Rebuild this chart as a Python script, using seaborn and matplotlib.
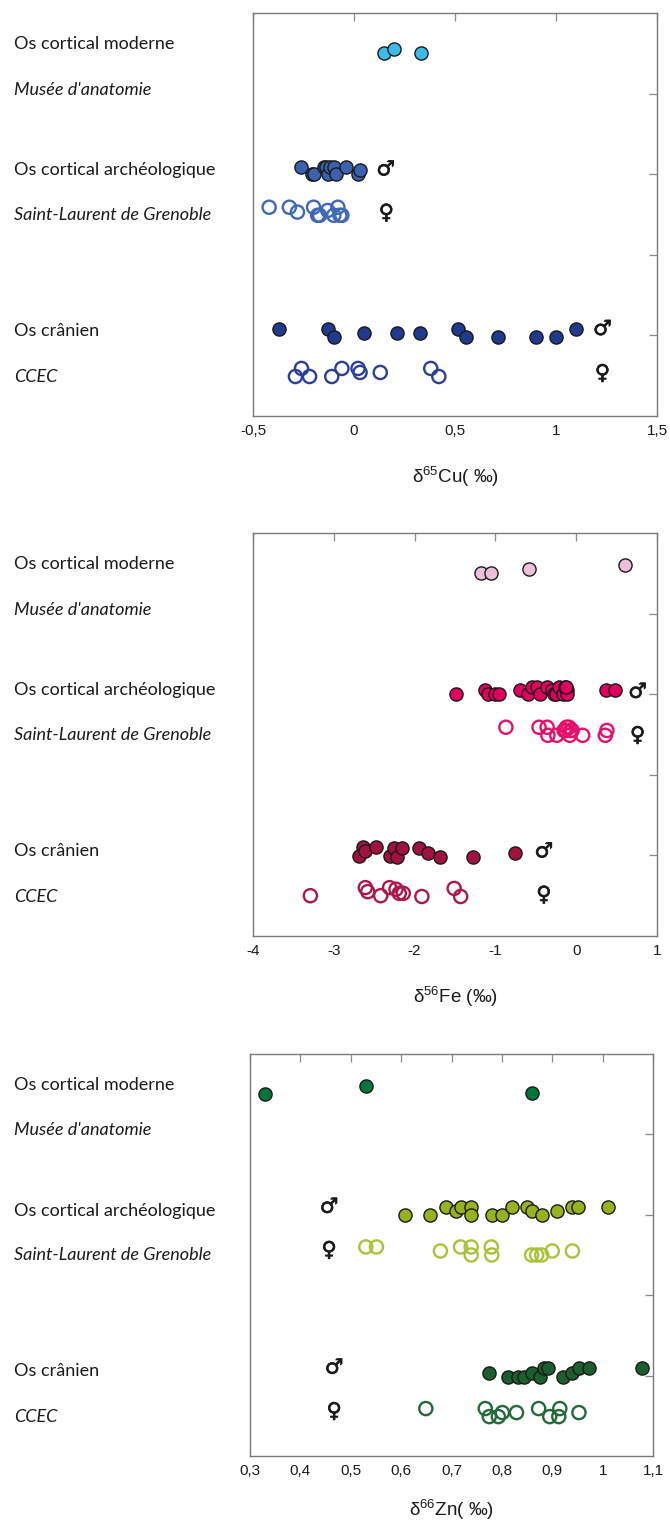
import matplotlib
matplotlib.use("Agg")
import matplotlib.pyplot as plt
import matplotlib.patheffects as pe
import matplotlib.transforms as mtransforms
import seaborn as sns

# --- Cu panel -------------------------------------------------------------
cu_mod_x = [0.15, 0.20, 0.33]
cu_mod_y = [4.50, 4.55, 4.50]
cu_arch_m_x = [-0.26, -0.21, -0.20, -0.15, -0.14, -0.13, -0.12, -0.10, -0.09, -0.04, 0.02, 0.03]
cu_arch_m_y = [3.09, 3.00, 3.00, 3.09, 3.09, 3.00, 3.09, 3.09, 3.00, 3.09, 3.00, 3.05]
cu_arch_f_x = [-0.42, -0.32, -0.28, -0.20, -0.18, -0.17, -0.13, -0.10, -0.08, -0.07, -0.06]
cu_arch_f_y = [2.59, 2.59, 2.53, 2.59, 2.49, 2.49, 2.55, 2.49, 2.59, 2.49, 2.49]
cu_cran_m_x = [-0.37, -0.13, -0.10, 0.05, 0.215, 0.325, 0.515, 0.555, 0.715, 0.90, 1.00, 1.10]
cu_cran_m_y = [1.08, 1.08, 0.98, 1.03, 1.03, 1.03, 1.08, 0.98, 0.98, 0.98, 0.98, 1.08]
cu_cran_f_x = [-0.29, -0.26, -0.22, -0.11, -0.06, 0.02, 0.03, 0.13, 0.38, 0.42]
cu_cran_f_y = [0.49, 0.59, 0.49, 0.49, 0.59, 0.59, 0.54, 0.54, 0.59, 0.49]

# --- Fe panel -------------------------------------------------------------
fe_mod_x = [-1.18, -1.05, -0.58, 0.61]
fe_mod_y = [4.50, 4.50, 4.55, 4.60]
fe_arch_m_x = [-1.49, -1.13, -1.09, -1.01, -0.95, -0.69, -0.60, -0.55, -0.48, -0.45, -0.36,
               -0.30, -0.28, -0.25, -0.21, -0.16, -0.14, -0.12, -0.11, -0.13, 0.37, 0.48]
fe_arch_m_y = [3.00, 3.05, 3.00, 3.00, 3.00, 3.05, 3.00, 3.09, 3.09, 3.00, 3.09,
               3.05, 3.00, 3.00, 3.09, 3.00, 3.09, 3.05, 3.00, 3.09, 3.05, 3.05]
fe_arch_f_x = [-0.87, -0.46, -0.36, -0.35, -0.24, -0.15, -0.12, -0.09, -0.07, -0.08, -0.13,
               -0.05, 0.08, 0.36, 0.38]
fe_arch_f_y = [2.59, 2.59, 2.59, 2.49, 2.49, 2.55, 2.59, 2.59, 2.55, 2.49, 2.55,
               2.55, 2.49, 2.49, 2.55]
fe_cran_m_x = [-2.69, -2.64, -2.61, -2.48, -2.30, -2.26, -2.22, -2.15, -1.94, -1.84, -1.68, -1.28, -0.76]
fe_cran_m_y = [0.99, 1.10, 1.05, 1.10, 0.99, 1.09, 0.98, 1.09, 1.09, 1.03, 0.98, 0.98, 1.03]
fe_cran_f_x = [-3.29, -2.61, -2.58, -2.42, -2.31, -2.23, -2.19, -2.14, -1.91, -1.51, -1.43]
fe_cran_f_y = [0.50, 0.60, 0.55, 0.50, 0.60, 0.58, 0.53, 0.53, 0.49, 0.59, 0.49]

# --- Zn panel -------------------------------------------------------------
zn_mod_x = [0.33, 0.53, 0.86]
zn_mod_y = [4.50, 4.60, 4.51]
zn_arch_m_x = [0.608, 0.658, 0.689, 0.709, 0.718, 0.739, 0.739, 0.780, 0.800, 0.820, 0.849,
               0.860, 0.879, 0.910, 0.940, 0.952, 1.010]
zn_arch_m_y = [3.00, 3.00, 3.10, 3.05, 3.10, 3.10, 3.00, 3.00, 3.00, 3.10, 3.10,
               3.05, 3.00, 3.05, 3.10, 3.10, 3.10]
zn_arch_f_x = [0.530, 0.551, 0.678, 0.718, 0.739, 0.739, 0.779, 0.780, 0.859, 0.869, 0.879, 0.900, 0.940]
zn_arch_f_y = [2.60, 2.60, 2.55, 2.60, 2.60, 2.50, 2.60, 2.50, 2.50, 2.50, 2.50, 2.55, 2.55]
zn_cran_m_x = [0.774, 0.813, 0.832, 0.844, 0.860, 0.875, 0.883, 0.892, 0.922, 0.940, 0.953, 0.973, 1.079]
zn_cran_m_y = [1.03, 0.98, 0.98, 0.98, 1.03, 0.98, 1.09, 1.09, 0.98, 1.03, 1.09, 1.09, 1.09]
zn_cran_f_x = [0.649, 0.767, 0.775, 0.793, 0.801, 0.829, 0.873, 0.895, 0.915, 0.913, 0.953]
zn_cran_f_y = [0.59, 0.59, 0.49, 0.49, 0.54, 0.54, 0.59, 0.49, 0.59, 0.49, 0.54]

# group labels (left side) and their heights on the y scale
group_labels = ["Os cortical moderne", "Musée d'anatomie", "Os cortical archéologique",
                "Saint-Laurent de Grenoble", "Os crânien", "CCEC"]
group_label_y = [4.62, 4.05, 3.05, 2.50, 1.06, 0.48]
group_label_italic = [False, True, False, True, False, True]

cu_ticks = [-0.5, 0, 0.5, 1, 1.5]
cu_ticklabels = ["-0,5", "0", "0,5", "1", "1,5"]
fe_ticks = [-4, -3, -2, -1, 0, 1]
fe_ticklabels = ["-4", "-3", "-2", "-1", "0", "1"]
zn_ticks = [0.3, 0.4, 0.5, 0.6, 0.7, 0.8, 0.9, 1.0, 1.1]
zn_ticklabels = ["0,3", "0,4", "0,5", "0,6", "0,7", "0,8", "0,9", "1", "1,1"]

# sex symbol positions: (x, y) for male / female, archaeological then cranial
cu_sym = [(0.157, 3.06), (0.16, 2.52), (1.23, 1.08), (1.23, 0.53)]
fe_sym = [(0.76, 3.03), (0.76, 2.49), (-0.40, 1.05), (-0.40, 0.51)]
zn_sym = [(0.457, 3.10), (0.457, 2.56), (0.467, 1.10), (0.467, 0.556)]

panels = [
    dict(mod=(cu_mod_x, cu_mod_y), am=(cu_arch_m_x, cu_arch_m_y), af=(cu_arch_f_x, cu_arch_f_y),
         cm=(cu_cran_m_x, cu_cran_m_y), cf=(cu_cran_f_x, cu_cran_f_y),
         colors=("#3dbbe8", "#3b62b0", "#4068b8", "#1f3a8e", "#2b409c"),
         xlim=(-0.5, 1.5), ticks=cu_ticks, labels=cu_ticklabels, sym=cu_sym,
         xlabel="δ$^{65}$Cu( ‰)", pad=19, rect=[253 / 670, 1 - 416 / 1525, 404 / 670, 403 / 1525]),
    dict(mod=(fe_mod_x, fe_mod_y), am=(fe_arch_m_x, fe_arch_m_y), af=(fe_arch_f_x, fe_arch_f_y),
         cm=(fe_cran_m_x, fe_cran_m_y), cf=(fe_cran_f_x, fe_cran_f_y),
         colors=("#ecc0da", "#e2005e", "#e6106a", "#a2123e", "#ab1a48"),
         xlim=(-4, 1), ticks=fe_ticks, labels=fe_ticklabels, sym=fe_sym,
         xlabel="δ$^{56}$Fe (‰)", pad=19, rect=[253 / 670, 1 - 936 / 1525, 404 / 670, 403 / 1525]),
    dict(mod=(zn_mod_x, zn_mod_y), am=(zn_arch_m_x, zn_arch_m_y), af=(zn_arch_f_x, zn_arch_f_y),
         cm=(zn_cran_m_x, zn_cran_m_y), cf=(zn_cran_f_x, zn_cran_f_y),
         colors=("#00773a", "#95b21f", "#a9c43a", "#1c5e2c", "#25693a"),
         xlim=(0.3, 1.1), ticks=zn_ticks, labels=zn_ticklabels, sym=zn_sym,
         xlabel="δ$^{66}$Zn( ‰)", pad=14, rect=[250 / 670, 1 - 1456 / 1525, 403 / 670, 402 / 1525]),
]

sns.set_theme(style="white")
plt.rcParams["font.family"] = ["Liberation Sans", "DejaVu Sans"]
plt.rcParams["mathtext.fontset"] = "custom"
plt.rcParams["mathtext.rm"] = "Liberation Sans"
plt.rcParams["mathtext.it"] = "Liberation Sans:italic"

fig = plt.figure(figsize=(6.7, 15.25), dpi=100)

S = 90
for p in panels:
    ax = fig.add_axes(p["rect"])
    c_mod, c_am, c_af, c_cm, c_cf = p["colors"]

    sns.scatterplot(x=p["mod"][0], y=p["mod"][1], color=c_mod, edgecolor="#1a1a1a",
                    linewidth=1.0, s=S, ax=ax, zorder=3)
    sns.scatterplot(x=p["am"][0], y=p["am"][1], color=c_am, edgecolor="#1a1a1a",
                    linewidth=1.0, s=S, ax=ax, zorder=3)
    sns.scatterplot(x=p["af"][0], y=p["af"][1], facecolors="none", edgecolor=c_af,
                    linewidth=1.7, s=S, ax=ax, zorder=3)
    sns.scatterplot(x=p["cm"][0], y=p["cm"][1], color=c_cm, edgecolor="#1a1a1a",
                    linewidth=1.0, s=S, ax=ax, zorder=3)
    sns.scatterplot(x=p["cf"][0], y=p["cf"][1], facecolors="none", edgecolor=c_cf,
                    linewidth=1.7, s=S, ax=ax, zorder=3)

    for (sx, sy), sym in zip(p["sym"], ["♂", "♀", "♂", "♀"]):
        ax.text(sx, sy, sym, ha="center", va="center", fontsize=15,
                color="#1a1a1a", family="DejaVu Sans",
                path_effects=[pe.withStroke(linewidth=0.5, foreground="#1a1a1a")])

    ax.set_xlim(*p["xlim"])
    ax.set_ylim(0, 5)
    ax.set_xticks(p["ticks"])
    ax.set_xticklabels(p["labels"])
    ax.set_yticks([1, 2, 3, 4])
    ax.set_yticklabels([])
    ax.tick_params(axis="both", direction="in", length=6, width=0.9, color="#8a8a8a",
                   top=True, right=True, labelsize=11, pad=6, labelcolor="#1a1a1a")
    for sp in ax.spines.values():
        sp.set_color("#7a7a7a")
        sp.set_linewidth(1.0)
    ax.set_xlabel(p["xlabel"], fontsize=13.5, labelpad=p["pad"], color="#1a1a1a")
    ax.set_ylabel("")

    # group labels to the left of each panel
    trans = mtransforms.blended_transform_factory(fig.transFigure, ax.transData)
    for lab, ly, it in zip(group_labels, group_label_y, group_label_italic):
        fig.text(14 / 670, ly, lab, transform=trans, ha="left", va="center",
                 fontsize=13, style="italic" if it else "normal", family="Lato",
                 color="#1a1a1a")

fig.savefig("out.png", dpi=100)
